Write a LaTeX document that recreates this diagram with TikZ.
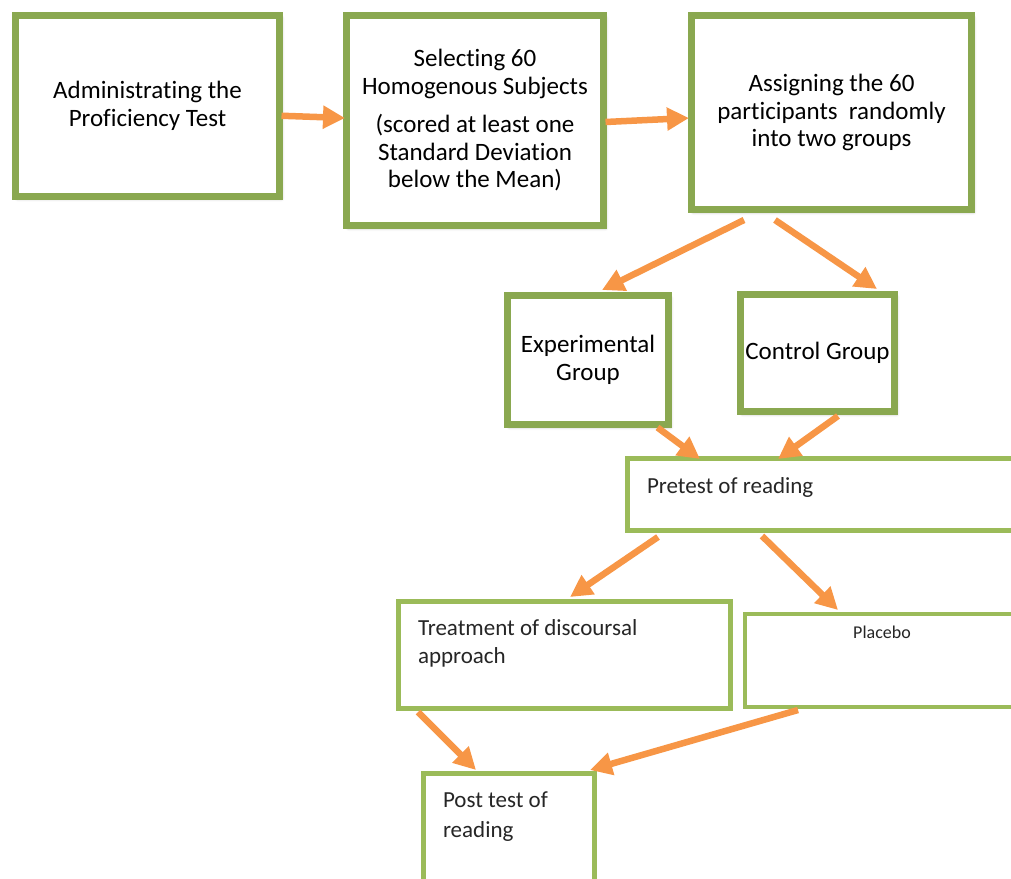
\documentclass[tikz,border=0pt]{standalone}
\usepackage{fontspec}
\setmainfont{Carlito}[Ligatures=NoCommon]
\usetikzlibrary{arrows.meta,calc,shadows.blur}
\definecolor{boxgreen}{HTML}{8AA850}
\definecolor{lightgreen}{HTML}{9BBB59}
\definecolor{arroworange}{HTML}{F79646}
\begin{document}
\begin{tikzpicture}[x=1pt,y=-1pt,
  topbox/.style={draw=boxgreen, line width=7pt, fill=white, inner sep=0pt, outer sep=0pt,
    align=center, font=\fontsize{25}{27.5}\selectfont,
    blur shadow={shadow xshift=2pt, shadow yshift=-2.5pt, shadow blur radius=3pt, shadow opacity=35}},
  lowbox/.style={draw=lightgreen, line width=5pt, fill=white, inner sep=0pt, outer sep=0pt},
  lowtext/.style={inner sep=0pt, outer sep=0pt, anchor=base west, align=left,
    font=\fontsize{23}{28}\selectfont, text=black!85},
  arr/.style={draw=arroworange, line width=6.5pt, -{Triangle[length=22pt,width=22pt]}}]
\useasboundingbox (0,0) rectangle (1011,878);
\clip (0,0) rectangle (1011,878);
% top row
\node[topbox, minimum width=264pt, minimum height=180.5pt] (A) at (147.5,105.75)
  {Administrating the\\Proficiency Test};
\node[topbox, minimum width=257pt, minimum height=210pt] (B) at (475,120.5)
  {Selecting 60\\Homogenous Subjects\\[11pt](scored at least one\\Standard Deviation\\below the Mean)};
\node[topbox, minimum width=280pt, minimum height=194pt] (C) at (831.5,112.5)
  {Assigning the 60\\participants\ \ randomly\\into two groups};
% groups
\node[topbox, minimum width=161pt, minimum height=129pt] (D) at (588,360)
  {Experimental\\Group};
\node[topbox, minimum width=154pt, minimum height=117pt] (E) at (817.5,353)
  {Control Group};
% lower boxes
\node[lowbox, minimum width=402.5pt, minimum height=72pt] (F) at (828.75,494.5) {};
\node[lowtext] (Ft) at (647,493) {Pretest of reading};
\node[lowbox, minimum width=332pt, minimum height=107pt] (G) at (564.5,655) {};
\node[lowtext] (Gt) at (418,663) {Treatment of discoursal\\approach};
\node[lowbox, line width=4pt, minimum width=285pt, minimum height=93pt] (H) at (887.5,660.5) {};
\node[inner sep=0pt, anchor=base, font=\fontsize{18}{22}\selectfont, text=black!85] (Ht) at (882,638) {Placebo};
\node[lowbox, minimum width=171pt, minimum height=126.5pt] (I) at (509,836.75) {};
\node[lowtext, font=\fontsize{23}{30}\selectfont] (It) at (443,837) {Post test of\\reading};
% arrows
\draw[arr] ($(A.east)+(2,10)$) -- ($(B.west)+(-1.5,-2.5)$);
\draw[arr] ($(B.east)+(2,1.5)$) -- ($(C.west)+(-2.5,5.5)$);
\draw[arr] ($(C.south)+(-87.5,10.5)$) -- ($(D.north)+(14,-5.5)$);
\draw[arr] ($(C.south)+(-56.5,10.5)$) -- ($(E.north)+(59.5,-5.5)$);
\draw[arr] ($(D.south east)+(-11,3)$) -- ($(F.north west)+(72.5,0.5)$);
\draw[arr] ($(E.south)+(20.5,4.5)$) -- ($(F.north west)+(150.5,0.5)$);
\draw[arr] ($(F.south west)+(30.5,6.5)$) -- ($(G.north)+(5.5,-4.5)$);
\draw[arr] ($(F.south west)+(134.5,5.5)$) -- ($(H.north west)+(93,-4)$);
\draw[arr] ($(G.south west)+(19.5,3.5)$) -- ($(I.north west)+(52.5,-3.5)$);
\draw[arr] ($(H.south west)+(53,3)$) -- ($(I.north west)+(166.5,-3.5)$);
\end{tikzpicture}
\end{document}
